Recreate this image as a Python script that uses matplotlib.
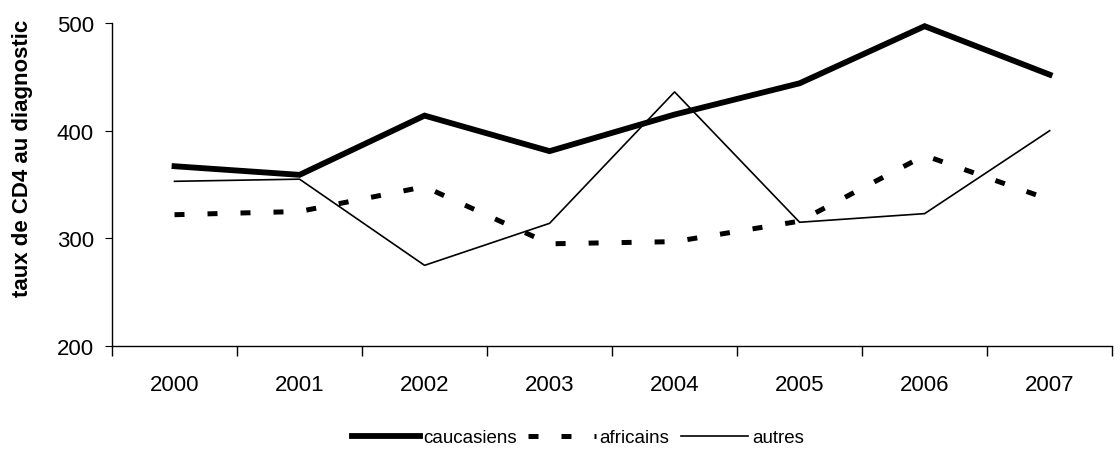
import numpy as np
import matplotlib.pyplot as plt
from matplotlib.ticker import FixedLocator

plt.rcParams['font.family'] = ['Liberation Sans', 'DejaVu Sans']

years = ['2000', '2001', '2002', '2003', '2004', '2005', '2006', '2007']
caucasiens = [367, 359, 414, 381, 415, 444, 497, 452]
africains = [322, 325, 348, 295, 297, 316, 377, 336]
autres = [353, 355, 275, 314, 436, 315, 323, 400]

fig = plt.figure(figsize=(11.2, 4.52), dpi=100)
ax = fig.add_axes([0.1, 0.232, 0.893, 0.715])

x = np.arange(len(years))
ax.plot(x, caucasiens, color='black', lw=4.2, label='caucasiens', solid_joinstyle='miter')
ax.plot(x, africains, color='black', lw=3.6, dashes=(2, 4.6), label='africains')
ax.plot(x, autres, color='black', lw=1.2, label='autres')

ax.set_xlim(-0.5, len(years) - 0.5)
ax.set_ylim(200, 500)
ax.set_yticks([200, 300, 400, 500])
ax.set_xticks(x)
ax.set_xticklabels(years)
ax.xaxis.set_minor_locator(FixedLocator(np.arange(-0.5, len(years), 1.0)))
ax.tick_params(axis='x', which='major', length=0, pad=20, labelsize=16)
ax.tick_params(axis='x', which='minor', length=7, direction='out', width=1)
ax.tick_params(axis='y', length=5, direction='out', labelsize=16, pad=8)

for s in ['top', 'right']:
    ax.spines[s].set_visible(False)
ax.spines['left'].set_linewidth(1)
ax.spines['bottom'].set_linewidth(1)

ax.set_ylabel('taux de CD4 au diagnostic', fontsize=16, fontweight='bold')
ax.yaxis.set_label_coords(-0.079, 0.585)

ax.legend(loc='center', bbox_to_anchor=(0.466, -0.283), ncol=3, frameon=False,
          fontsize=13.5, handlelength=3.6, columnspacing=0.6, handletextpad=0.2,
          borderpad=0.1)

fig.savefig('out.png', dpi=100)
